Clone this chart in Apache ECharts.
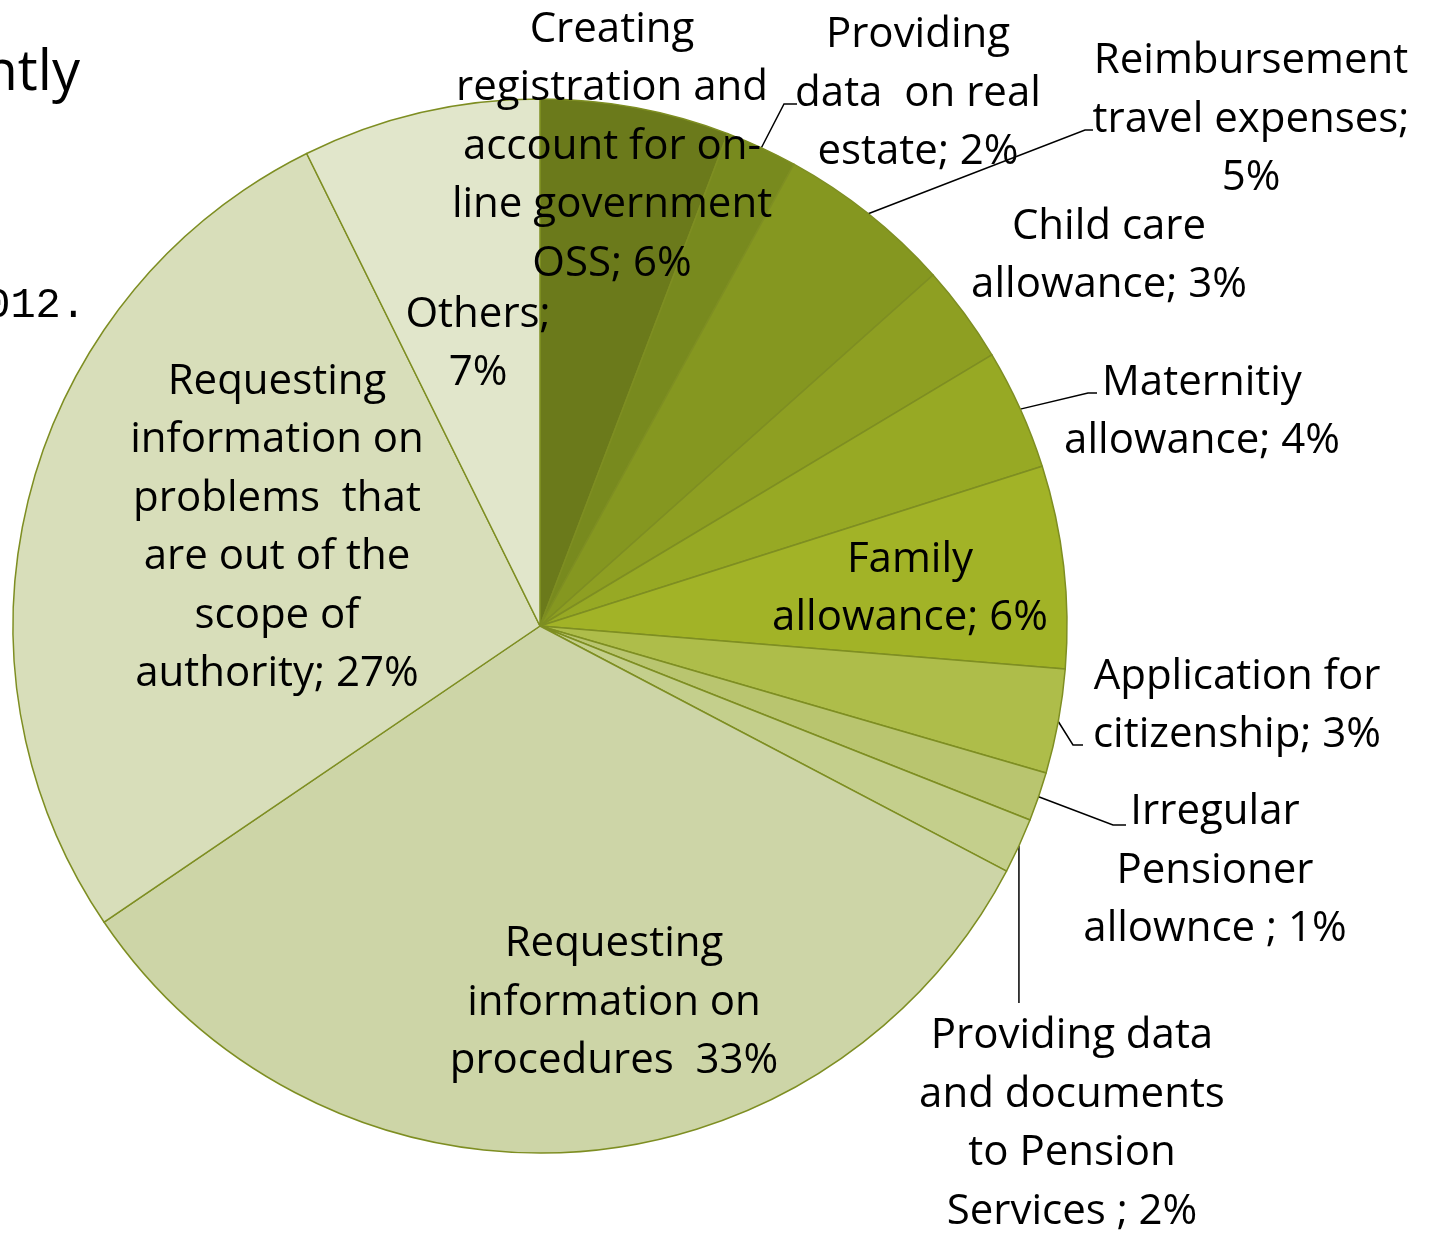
<!DOCTYPE html>
<html><head><meta charset="utf-8">
<script src="https://cdn.jsdelivr.net/npm/echarts@6/dist/echarts.min.js"></script>
<style>html,body{margin:0;padding:0;background:#fff;overflow:hidden}#c{width:1431px;height:1233px}</style>
</head><body><div id="c"></div>
<script>
// ---- data ----
const categories = [
  "Creating\nregistration and\naccount for on-\nline government\nOSS",
  "Providing\ndata  on real\nestate",
  "Reimbursement\ntravel expenses",
  "Child care\nallowance",
  "Maternitiy\nallowance",
  "Family\nallowance",
  "Application for\ncitizenship",
  "Irregular\nPensioner\nallownce",
  "Providing data\nand documents\nto Pension\nServices",
  "Requesting\ninformation on\nprocedures",
  "Requesting\ninformation on\nproblems  that\nare out of the\nscope of\nauthority",
  "Others"
];
// slice sizes estimated from the drawn angles
const values = [5.8, 2.2, 5.4, 3.0, 3.7, 6.2, 3.2, 1.5, 1.7, 32.8, 27.2, 7.3];
// percentages as printed in the labels
const pctLabels = [6, 2, 5, 3, 4, 6, 3, 1, 2, 33, 27, 7];
const separators = ["; ", "; ", ";\n", "; ", "; ", "; ", "; ", " ; ", " ; ", "  ", "; ", ";\n"];

// ---- styles / layout ----
const colors = ["#6B7A1B","#788A1E","#859720","#8E9F22","#97A924","#A2B327",
                "#AEBD4A","#B9C56F","#C4CF8C","#CDD5A7","#D8DEBA","#E1E6CB"];
const labelPos = [[612,147],[918,94],[1251,120],[1109,256],[1202,412],[910,589],
                  [1237,706],[1215,871],[1072,1124],[614,1003],[277,528],[478,344]];
const leaderEnds = [null, [[784,104],[797,104]], [[1085,130],[1093,130]], null,
                    [[1088,393],[1097,393]], null, [[1073,745],[1083,745]],
                    [[1113,825],[1126,825]], 'vertical', null, null, null];

const chart = echarts.init(document.getElementById('c'), null, {renderer:'canvas'});
const FONT = '"Open Sans", "Lato", sans-serif';

const data = categories.map((n, i) => ({
  name: n,
  value: values[i],
  itemStyle: { color: colors[i] },
  label: { formatter: n + separators[i] + pctLabels[i] + '%' },
  labelLine: { show: !!leaderEnds[i] }
}));

chart.setOption({
  animation: false,
  backgroundColor: '#ffffff',
  graphic: [
    { type: 'text', style: { text: 'ntly', x: 80, y: 74, align: 'right', verticalAlign: 'middle',
        fontSize: 56, fontFamily: FONT, fill: '#000' } },
    { type: 'text', style: { text: '2012.', x: 86, y: 306, align: 'right', verticalAlign: 'middle',
        fontSize: 42, fontFamily: '"Liberation Mono", "DejaVu Sans Mono", monospace', fill: '#000' } }
  ],
  series: [{
    type: 'pie',
    center: [540, 626],
    radius: 527,
    startAngle: 90,
    clockwise: true,
    avoidLabelOverlap: false,
    itemStyle: { borderColor: '#7E8E22', borderWidth: 1.5 },
    label: {
      show: true,
      position: 'outside',
      width: 480,
      overflow: 'none',
      fontSize: 42,
      lineHeight: 58.5,
      fontFamily: FONT,
      color: '#000',
      align: 'center'
    },
    labelLine: { show: true, length: 20, length2: 10, smooth: false,
                 lineStyle: { color: '#000', width: 1.5 } },
    labelLayout: function (p) {
      const i = p.dataIndex;
      const res = { x: labelPos[i][0], y: labelPos[i][1], align: 'center', verticalAlign: 'middle' };
      const le = leaderEnds[i];
      if (le && p.labelLinePoints && p.labelLinePoints.length) {
        const a = p.labelLinePoints[0];
        if (le === 'vertical') {
          res.labelLinePoints = [a, [a[0], 1003]];
        } else {
          res.labelLinePoints = [a].concat(le);
        }
      }
      return res;
    },
    data: data
  }]
});
</script>
</body></html>
